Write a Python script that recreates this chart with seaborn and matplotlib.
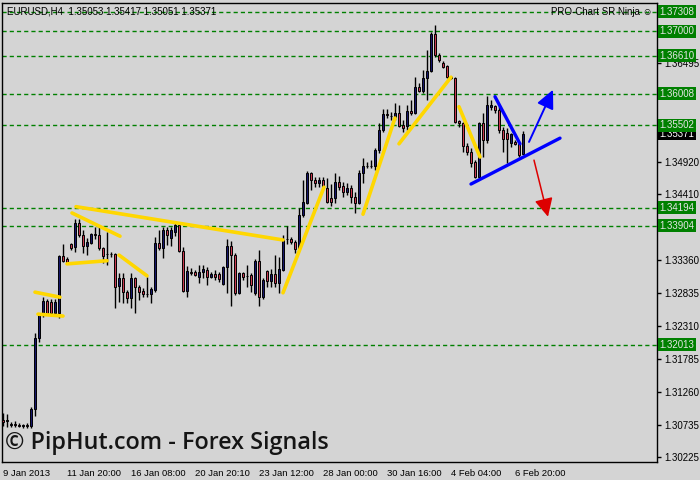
import numpy as np
import pandas as pd
import matplotlib
matplotlib.use('Agg')
import matplotlib.pyplot as plt
import seaborn as sns

# EURUSD H4 candles
open_ = [1.3082, 1.3080, 1.3074, 1.3075, 1.3074, 1.3072, 1.3074, 1.3072, 1.3099, 1.3212,
         1.3252, 1.3271, 1.3269, 1.3252, 1.3252, 1.3343, 1.3338, 1.3362, 1.3357, 1.3395,
         1.3376, 1.3358, 1.3363, 1.3378, 1.3376, 1.3355, 1.3346, 1.3345, 1.3346, 1.3294,
         1.3307, 1.3285, 1.3276, 1.3307, 1.3293, 1.3287, 1.3282, 1.3282, 1.3288, 1.3363,
         1.3355, 1.3384, 1.3371, 1.3381, 1.3392, 1.3350, 1.3287, 1.3317, 1.3317, 1.3309,
         1.3317, 1.3320, 1.3309, 1.3314, 1.3314, 1.3298, 1.3325, 1.3358, 1.3344, 1.3283,
         1.3315, 1.3311, 1.3312, 1.3283, 1.3334, 1.3277, 1.3319, 1.3303, 1.3314, 1.3299,
         1.3320, 1.3370, 1.3370, 1.3365, 1.3354, 1.3408, 1.3427, 1.3475, 1.3463, 1.3458,
         1.3463, 1.3451, 1.3435, 1.3435, 1.3460, 1.3454, 1.3444, 1.3451, 1.3436, 1.3427,
         1.3475, 1.3486, 1.3485, 1.3486, 1.3511, 1.3543, 1.3568, 1.3565, 1.3564, 1.3570,
         1.3551, 1.3549, 1.3573, 1.3570, 1.3611, 1.3605, 1.3626, 1.3637, 1.3696, 1.3662,
         1.3650, 1.3645, 1.3627, 1.3626, 1.3557, 1.3554, 1.3517, 1.3508, 1.3492, 1.3468,
         1.3554, 1.3527, 1.3580, 1.3581, 1.3575, 1.3543, 1.3538, 1.3522, 1.3524, 1.3521,
         1.35053]
high = [1.3093, 1.3091, 1.3078, 1.3080, 1.3077, 1.3075, 1.3077, 1.3102, 1.3220, 1.3252,
        1.3277, 1.3274, 1.3274, 1.3274, 1.3344, 1.3362, 1.3341, 1.3363, 1.3401, 1.3401,
        1.3384, 1.3371, 1.3379, 1.3389, 1.3389, 1.3357, 1.3381, 1.3349, 1.3347, 1.3315,
        1.3315, 1.3288, 1.3315, 1.3309, 1.3296, 1.3291, 1.3309, 1.3293, 1.3373, 1.3384,
        1.3389, 1.3389, 1.3389, 1.3395, 1.3395, 1.3357, 1.3327, 1.3323, 1.3320, 1.3328,
        1.3328, 1.3325, 1.3317, 1.3320, 1.3317, 1.3327, 1.3370, 1.3366, 1.3347, 1.3317,
        1.3317, 1.3328, 1.3315, 1.3338, 1.3352, 1.3307, 1.3320, 1.3322, 1.3344, 1.3341,
        1.3376, 1.3390, 1.3373, 1.3368, 1.3419, 1.3463, 1.3478, 1.3476, 1.3468, 1.3468,
        1.3468, 1.3467, 1.3457, 1.3475, 1.3470, 1.3460, 1.3459, 1.3456, 1.3444, 1.3479,
        1.3499, 1.3492, 1.3495, 1.3514, 1.3554, 1.3576, 1.3576, 1.3572, 1.3586, 1.3583,
        1.3559, 1.3583, 1.3591, 1.3627, 1.3618, 1.3638, 1.3670, 1.3699, 1.3710, 1.3665,
        1.3653, 1.3646, 1.3629, 1.3627, 1.3559, 1.3556, 1.3522, 1.3514, 1.3495, 1.3556,
        1.3570, 1.3597, 1.3591, 1.3583, 1.3581, 1.3548, 1.3546, 1.3538, 1.3527, 1.3524,
        1.35417]
low = [1.3072, 1.3070, 1.3070, 1.3070, 1.3070, 1.3069, 1.3069, 1.3069, 1.3088, 1.3206,
       1.3246, 1.3249, 1.3247, 1.3249, 1.3244, 1.3333, 1.3330, 1.3352, 1.3349, 1.3373,
       1.3347, 1.3344, 1.3362, 1.3370, 1.3352, 1.3331, 1.3328, 1.3341, 1.3259, 1.3269,
       1.3268, 1.3268, 1.3259, 1.3252, 1.3273, 1.3277, 1.3277, 1.3268, 1.3285, 1.3352,
       1.3339, 1.3360, 1.3358, 1.3374, 1.3349, 1.3285, 1.3277, 1.3312, 1.3311, 1.3299,
       1.3307, 1.3296, 1.3307, 1.3304, 1.3301, 1.3296, 1.3283, 1.3263, 1.3280, 1.3282,
       1.3304, 1.3293, 1.3285, 1.3280, 1.3263, 1.3274, 1.3293, 1.3293, 1.3293, 1.3283,
       1.3319, 1.3362, 1.3362, 1.3347, 1.3352, 1.3405, 1.3425, 1.3448, 1.3452, 1.3452,
       1.3449, 1.3427, 1.3422, 1.3427, 1.3448, 1.3436, 1.3439, 1.3427, 1.3411, 1.3425,
       1.3459, 1.3483, 1.3483, 1.3479, 1.3506, 1.3540, 1.3562, 1.3559, 1.3559, 1.3548,
       1.3540, 1.3543, 1.3567, 1.3568, 1.3603, 1.3602, 1.3591, 1.3635, 1.3659, 1.3651,
       1.3642, 1.3626, 1.3624, 1.3554, 1.3548, 1.3508, 1.3503, 1.3484, 1.3467, 1.3467,
       1.3500, 1.3522, 1.3575, 1.3570, 1.3538, 1.3508, 1.3490, 1.3516, 1.3519, 1.3500,
       1.35051]
close = [1.3078, 1.3082, 1.3075, 1.3074, 1.3072, 1.3074, 1.3072, 1.3099, 1.3212, 1.3249,
         1.3271, 1.3252, 1.3252, 1.3269, 1.3343, 1.3334, 1.3333, 1.3355, 1.3395, 1.3376,
         1.3358, 1.3365, 1.3378, 1.3376, 1.3355, 1.3343, 1.3345, 1.3346, 1.3293, 1.3307,
         1.3285, 1.3276, 1.3307, 1.3293, 1.3285, 1.3282, 1.3282, 1.3290, 1.3363, 1.3355,
         1.3384, 1.3376, 1.3384, 1.3392, 1.3350, 1.3287, 1.3319, 1.3316, 1.3312, 1.3317,
         1.3322, 1.3309, 1.3314, 1.3309, 1.3306, 1.3325, 1.3358, 1.3344, 1.3283, 1.3315,
         1.3309, 1.3311, 1.3296, 1.3334, 1.3277, 1.3304, 1.3303, 1.3314, 1.3299, 1.3322,
         1.3368, 1.3369, 1.3365, 1.3354, 1.3408, 1.3428, 1.3475, 1.3463, 1.3458, 1.3463,
         1.3451, 1.3428, 1.3428, 1.3460, 1.3452, 1.3444, 1.3451, 1.3436, 1.3427, 1.3475,
         1.3486, 1.3485, 1.3486, 1.3511, 1.3543, 1.3568, 1.3567, 1.3566, 1.3570, 1.3549,
         1.3546, 1.3573, 1.3570, 1.3611, 1.3605, 1.3626, 1.3637, 1.3696, 1.3662, 1.3654,
         1.3643, 1.3627, 1.3626, 1.3556, 1.3554, 1.3517, 1.3508, 1.3490, 1.3468, 1.3554,
         1.3527, 1.3583, 1.3583, 1.3575, 1.3543, 1.3529, 1.3529, 1.3537, 1.3521, 1.3503,
         1.35371]

# support / resistance levels from the indicator
sr_levels = [1.37308, 1.37000, 1.36610, 1.36008, 1.35502, 1.34194, 1.33904, 1.32013]
last_price = 1.35371
# scale ticks; the ones hidden behind the level boxes keep only their tick mark
price_ticks = [1.30225, 1.30735, 1.31260, 1.31785, 1.32310, 1.32835, 1.33360,
               1.33885, 1.34410, 1.34920, 1.35445, 1.35970, 1.36495, 1.37020]
hidden_ticks = [1.33885, 1.35445, 1.35970, 1.37020]
date_pos = [0, 16, 32, 48, 64, 80, 96, 112, 128]
date_labels = ['9 Jan 2013', '11 Jan 20:00', '16 Jan 08:00', '20 Jan 20:10', '23 Jan 12:00',
               '28 Jan 00:00', '30 Jan 16:00', '4 Feb 04:00', '6 Feb 20:00']

# hand drawn trend lines (bar index, price)
yellow_bar0 = [8.0, 8.75, 18.25, 17.25, 16.0, 29.0, 70.0, 90.0, 99.0, 114.0]
yellow_p0 = [1.3285, 1.3250, 1.3421, 1.3411, 1.3330, 1.3344, 1.3284, 1.3409, 1.3521, 1.3580]
yellow_bar1 = [14.25, 15.0, 70.0, 29.25, 26.0, 36.0, 80.25, 98.0, 112.0, 119.25]
yellow_p1 = [1.3277, 1.3247, 1.3368, 1.3374, 1.3335, 1.3311, 1.3452, 1.3562, 1.3627, 1.3500]
blue_bar0 = [123.0, 117.0]
blue_p0 = [1.3596, 1.3457]
blue_bar1 = [129.25, 139.25]
blue_p1 = [1.3521, 1.3530]
up_arrow = [(131.5, 1.3524), (137.5, 1.3607)]
down_arrow = [(132.75, 1.3495), (136.25, 1.3405)]

bg = '#d4d4d4'
sns.set_style('white', {'axes.facecolor': bg, 'figure.facecolor': bg,
                        'axes.edgecolor': 'black'})
plt.rcParams['font.family'] = ['Liberation Sans', 'DejaVu Sans']

df = pd.DataFrame({'bar': np.arange(len(close)), 'open': open_, 'high': high,
                   'low': low, 'close': close})
df['bull'] = df['close'] > df['open']

fig = plt.figure(figsize=(7, 4.8), dpi=100)
ax = fig.add_axes([2 / 700, 18 / 480, 655 / 700, 459 / 480])

for lv in sr_levels:
    ax.axhline(lv, color='#008000', lw=1, ls=(0, (3, 2.2)), zorder=1)

# candles
ax.vlines(df['bar'], df['low'], df['high'], color='black', lw=1, zorder=2)
body_lo = df[['open', 'close']].min(axis=1)
body_h = (df['close'] - df['open']).abs()
ax.bar(df['bar'], body_h, bottom=body_lo, width=0.72,
       color=np.where(df['bull'], '#16166a', '#c8384f'),
       edgecolor='black', linewidth=0.7, zorder=3)

# trend lines
def seg_frame(b0, p0, b1, p1):
    rows = []
    for k in range(len(b0)):
        rows.append((k, b0[k], p0[k]))
        rows.append((k, b1[k], p1[k]))
    return pd.DataFrame(rows, columns=['seg', 'bar', 'price'])

sns.lineplot(data=seg_frame(yellow_bar0, yellow_p0, yellow_bar1, yellow_p1),
             x='bar', y='price', units='seg', estimator=None, sort=False,
             color='#ffd700', lw=2.6, ax=ax, legend=False, zorder=4)
sns.lineplot(data=seg_frame(blue_bar0, blue_p0, blue_bar1, blue_p1),
             x='bar', y='price', units='seg', estimator=None, sort=False,
             color='#0000ff', lw=2.4, ax=ax, legend=False, zorder=4)

ax.annotate('', xy=up_arrow[1], xytext=up_arrow[0],
            arrowprops=dict(arrowstyle='-|>,head_length=0.8,head_width=0.38',
                            color='#0000ff', lw=1.4, mutation_scale=14,
                            shrinkA=0, shrinkB=0), zorder=5)
ax.annotate('', xy=down_arrow[1], xytext=down_arrow[0],
            arrowprops=dict(arrowstyle='-|>,head_length=0.8,head_width=0.4',
                            color='#dd0000', lw=1.1, mutation_scale=14,
                            shrinkA=0, shrinkB=0), zorder=5)

ax.set_xlim(-0.25, 163.5)
ax.set_ylim(1.30148, 1.37450)
ax.set_xlabel('')
ax.set_ylabel('')

ax.yaxis.tick_right()
ax.set_yticks(price_ticks, ['' if t in hidden_ticks else f'{t:.5f}' for t in price_ticks])
ax.set_xticks(date_pos, date_labels, ha='left')
ax.tick_params(axis='y', direction='out', length=3, width=1, pad=2,
               labelsize=7, colors='black')
ax.tick_params(axis='x', direction='out', length=4, width=1, pad=1,
               labelsize=6.8, colors='black')
for sp in ax.spines.values():
    sp.set_linewidth(1)
    sp.set_color('black')

# price boxes on the right scale
ytr = ax.get_yaxis_transform()
ax.text(1.004, last_price, f'{last_price:.5f}', transform=ytr, ha='left', va='center',
        fontsize=7, color='white', clip_on=False, zorder=9,
        bbox=dict(boxstyle='square,pad=0.15', fc='black', ec='none'))
for lv in sr_levels:
    ax.text(1.004, lv, f'{lv:.5f}', transform=ytr, ha='left', va='center',
            fontsize=7, color='#e4e4e4', clip_on=False, zorder=10,
            bbox=dict(boxstyle='square,pad=0.15', fc='#008000', ec='none'))

fig.text(7 / 700, 1 - 12 / 480,
         'EURUSD,H4  %.5f %.5f %.5f %.5f' % (open_[-1], high[-1], low[-1], close[-1]),
         ha='left', va='center', fontsize=7, color='black')
fig.text(653 / 700, 1 - 12 / 480, 'PRO-Chart SR Ninja \u263a', ha='right', va='center',
         fontsize=7, color='black')
fig.text(5 / 700, 1 - 443 / 480, '\u00a9 PipHut.com - Forex Signals', ha='left',
         va='center', fontsize=16.8, fontweight='semibold', color='#151515',
         family=['Open Sans', 'DejaVu Sans'])

fig.savefig('out.png', dpi=100, facecolor=bg)
